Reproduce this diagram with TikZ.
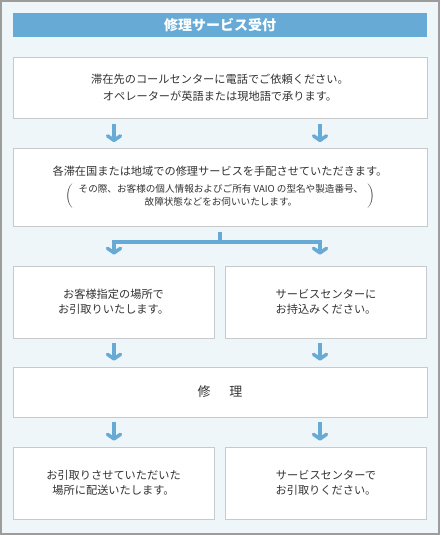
\documentclass[tikz,border=0pt]{standalone}
\usepackage{fontspec}
\setmainfont{Noto Sans CJK JP}
\usepackage{tikz}
\usetikzlibrary{arrows.meta}
\definecolor{rpsky}{HTML}{EEF6FA}
\definecolor{rpblue}{HTML}{66AAD5}
\definecolor{rpedge}{HTML}{C6CACD}
\definecolor{rpframe}{HTML}{9C9C9C}
\definecolor{rpink}{HTML}{333333}
\tikzset{
  rstep/.style={rectangle, draw=rpedge, fill=white, line width=0.8pt, minimum width=414pt, inner sep=0pt, text=rpink, align=center, font=\fontsize{11.2}{16.5}\selectfont},
  rhalf/.style={rstep, minimum width=201pt, minimum height=72pt, font=\fontsize{11.2}{15}\selectfont},
  rline/.style={draw=rpblue, line width=4pt},
  rdir/.style={draw=rpblue, line width=4pt, -{Straight Barb[length=4.5pt, width=13pt, line width=3.5pt, round]}, shorten <=5pt, shorten >=6pt}
}
\begin{document}
\begin{tikzpicture}[x=1pt, y=-1pt]
  % frame
  \path[fill=rpsky, draw=rpframe, line width=2pt] (1,1) rectangle (439,534);
  \node[fill=rpblue, minimum width=414pt, minimum height=24pt, inner sep=0pt, text=white, font=\fontsize{14}{14}\selectfont\bfseries] (head) at (220,25) {修理サービス受付};
  % steps
  \node[rstep, minimum height=61pt] (b1) at (220,87.7) {滞在先のコールセンターに電話でご依頼ください。\\オペレーターが英語または現地語で承ります。};
  \node[rstep, minimum height=78pt] (b2) at (220,187.5) {各滞在国または地域での修理サービスを手配させていただきます。\\[7pt]
    {\fontsize{9.6}{12.5}\selectfont$\left(\begin{tabular}{@{\hspace{6pt}}c@{\hspace{4pt}}}その際、お客様の個人情報およびご所有 VAIO の型名や製造番号、\\故障状態などをお伺いいたします。\end{tabular}\right)$}};
  \node[rhalf] (b3l) at (113.5,302) {お客様指定の場所で\\お引取りいたします。};
  \node[rhalf] (b3r) at (326,302) {サービスセンターに\\お持込みください。};
  \node[rstep, minimum height=50pt, font=\fontsize{13}{13}\selectfont] (b4) at (220,392) {修\hspace{19pt}理};
  \node[rhalf] (b5l) at (113.5,483) {お引取りさせていただいた\\場所に配送いたします。};
  \node[rhalf] (b5r) at (326,483) {サービスセンターで\\お引取りください。};
  % arrows
  \coordinate (cl) at (114,0);
  \coordinate (cr) at (320,0);
  \coordinate (fork) at (220,241.5);
  \path[rdir] (b1.south -| cl) -- (b2.north -| cl);
  \path[rdir] (b1.south -| cr) -- (b2.north -| cr);
  \path[rline] ([yshift=-5pt]b2.south) -- (fork);
  \path[rline, line cap=rect] (fork -| cl) -- (fork -| cr);
  \path[rdir, shorten <=0pt, shorten >=11pt] (fork -| cl) -- (b3l.north -| cl);
  \path[rdir, shorten <=0pt, shorten >=11pt] (fork -| cr) -- (b3r.north -| cr);
  \path[rdir] (b3l.south -| cl) -- (b4.north -| cl);
  \path[rdir] (b3r.south -| cr) -- (b4.north -| cr);
  \path[rdir] (b4.south -| cl) -- (b5l.north -| cl);
  \path[rdir] (b4.south -| cr) -- (b5r.north -| cr);
\end{tikzpicture}
\end{document}
